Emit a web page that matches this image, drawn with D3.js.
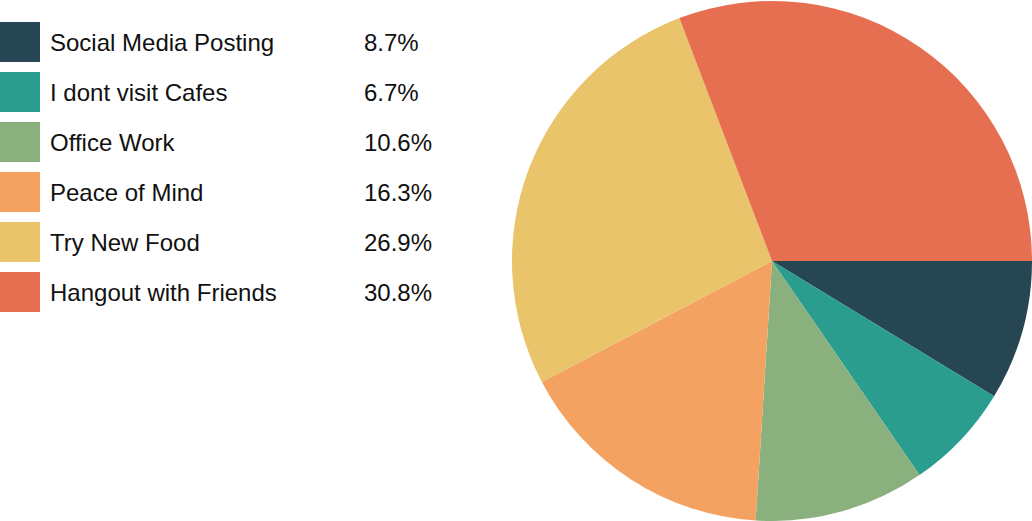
<!DOCTYPE html>
<html>
<head>
<meta charset="utf-8">
<script src="https://cdn.jsdelivr.net/npm/d3@7"></script>
<style>
  html, body { margin: 0; padding: 0; background: #fff; }
  svg { display: block; }
  text { font-family: Arial, "Liberation Sans", sans-serif; }
</style>
</head>
<body>
<svg id="chart" width="1032" height="521"></svg>
<script>
const categories = ["Social Media Posting", "I dont visit Cafes", "Office Work", "Peace of Mind", "Try New Food", "Hangout with Friends"];
const values = [8.7, 6.7, 10.6, 16.3, 26.9, 30.8];
const colors = ["#264653", "#2a9d8f", "#8ab17d", "#f4a261", "#e9c46a", "#e76f51"];

const data = categories.map((c, i) => ({ name: c, value: values[i] }));
const svg = d3.select("#chart");

const color = d3.scaleOrdinal().domain(categories).range(colors);

// Pie
const cx = 772, cy = 261, r = 260;
const pie = d3.pie().value(d => d.value).sort(null)
  .startAngle(Math.PI / 2).endAngle(Math.PI / 2 + 2 * Math.PI);
const arc = d3.arc().innerRadius(0).outerRadius(r);

svg.append("g").attr("transform", `translate(${cx},${cy})`)
  .selectAll("path").data(pie(data)).join("path")
  .attr("d", arc)
  .attr("fill", d => color(d.data.name));

// Legend
const y = d3.scaleBand().domain(categories).range([22, 322]).paddingInner(0.2).paddingOuter(0);
const leg = svg.append("g");
const rows = leg.selectAll("g").data(data).join("g")
  .attr("transform", d => `translate(0,${22 + categories.indexOf(d.name) * 50})`);
rows.append("rect").attr("x", 0).attr("y", 0).attr("width", 40).attr("height", 40)
  .attr("fill", d => color(d.name));
rows.append("text").attr("x", 50).attr("y", 28.5)
  .attr("font-size", 24).attr("fill", "#111")
  .text(d => d.name);
rows.append("text").attr("x", 364).attr("y", 28.5)
  .attr("font-size", 24).attr("fill", "#111")
  .text(d => d.value.toFixed(1) + "%");
</script>
</body>
</html>
